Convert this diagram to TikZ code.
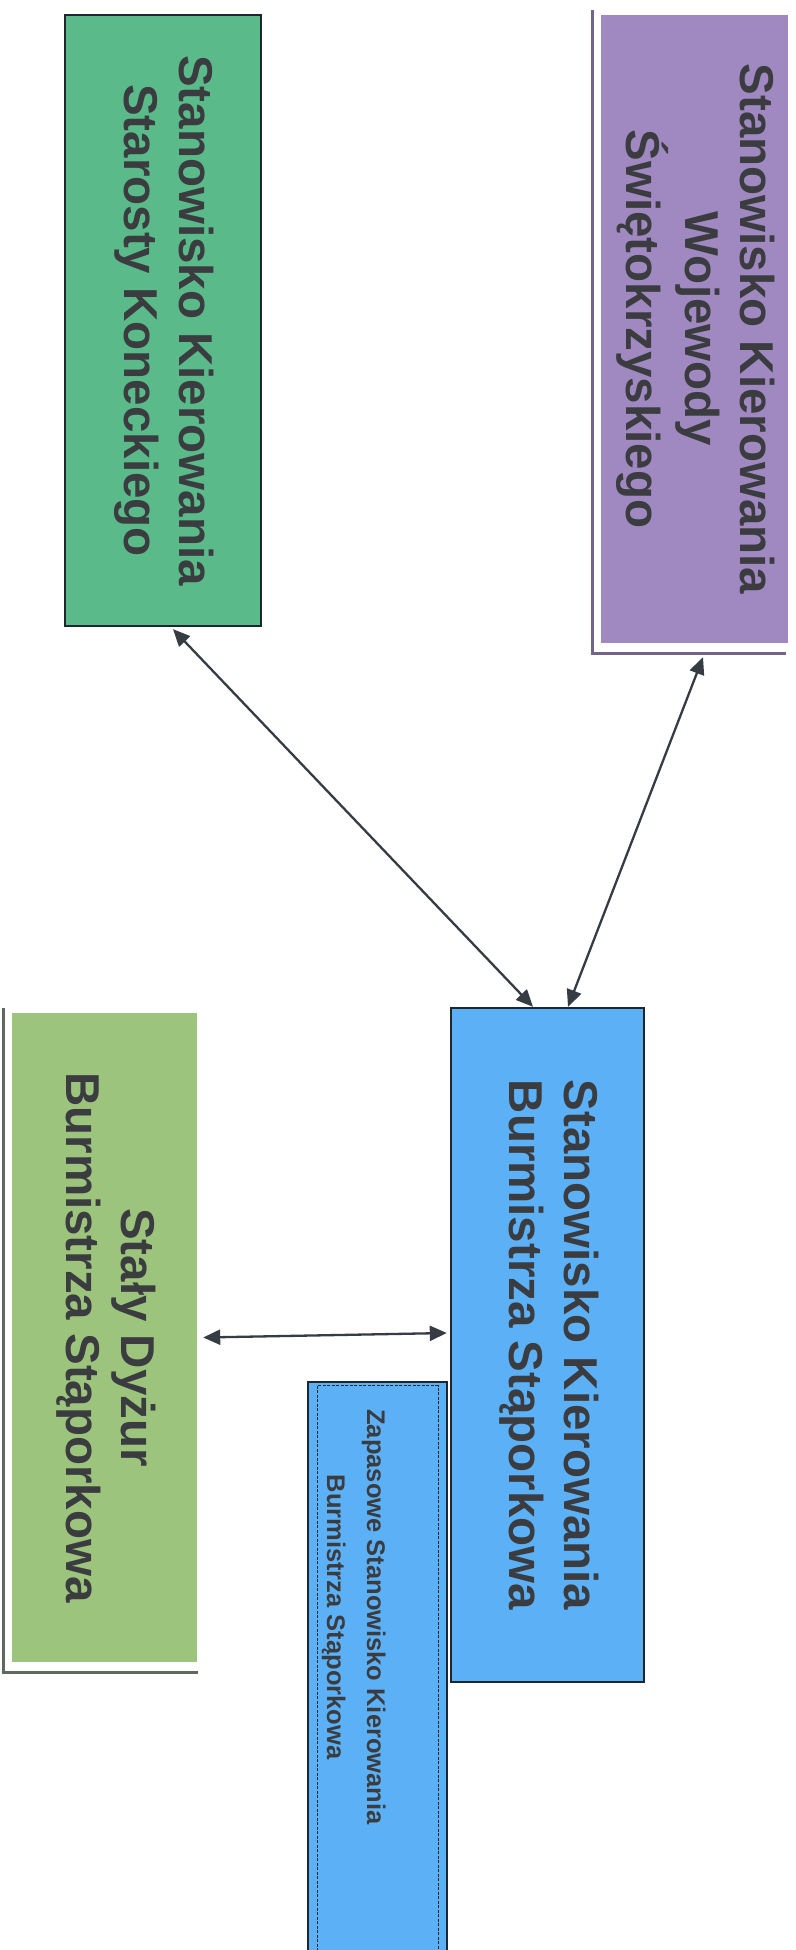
\documentclass[tikz,border=0pt]{standalone}
\usepackage{fontspec}
\setmainfont{Liberation Sans}
\usetikzlibrary{arrows.meta}

\definecolor{zielonyStarosta}{RGB}{90,186,138}
\definecolor{fioletWojewoda}{RGB}{160,136,192}
\definecolor{niebieskiBurmistrz}{RGB}{92,176,246}
\definecolor{zielonyDyzur}{RGB}{157,196,124}
\definecolor{tekst}{RGB}{58,60,64}
\definecolor{obrys}{RGB}{30,38,46}
\definecolor{ramkaFiolet}{RGB}{115,100,140}
\definecolor{ramkaZielen}{RGB}{95,105,95}

\newcommand{\pion}[1]{\rotatebox{-90}{\begin{tabular}{@{}c@{}}#1\end{tabular}}}

\begin{document}
\begin{tikzpicture}
        [x=1pt, y=-1pt,
        box/.style={rectangle, inner sep=0pt, font=\bfseries\fontsize{47.5}{55}\selectfont, text=tekst},
        boxDraw/.style={box, draw=obrys, line width=2.4pt},
        boxFrame/.style={line width=3pt},
        link/.style={line width=2.3pt, draw=obrys!90, >={Triangle[length=17pt, width=15pt]}, <->}]
        \useasboundingbox (0,0) rectangle (795,1950);
        \clip (0,0) rectangle (795,1950);
        \fill[white] (0,0) rectangle (795,1950);

        \node[boxDraw, fill=zielonyStarosta, minimum width=196pt, minimum height=611pt] (starosta) at (163,320.5) {\pion{Stanowisko Kierowania\\Starosty Koneckiego}};
        \node[box, fill=fioletWojewoda, minimum width=187pt, minimum height=628pt] (wojewoda) at (694.5,329) {\pion{Stanowisko Kierowania\\Wojewody\\Świętokrzyskiego}};
        \node[boxDraw, fill=niebieskiBurmistrz, minimum width=193pt, minimum height=674pt] (burmistrz) at (547.5,1345) {\pion{Stanowisko Kierowania\\Burmistrza Stąporkowa}};
        \node[box, fill=zielonyDyzur, minimum width=185pt, minimum height=649pt] (dyzur) at (104.5,1337.5) {\pion{Stały Dyżur\\Burmistrza Stąporkowa}};
        \node[boxDraw, fill=niebieskiBurmistrz, minimum width=139pt, minimum height=600pt] (zapas) at (377.5,1682) {};
        \draw[obrys, line width=0.9pt, dash pattern=on 3pt off 1.5pt] ([xshift=11pt, yshift=-5pt]zapas.north west) rectangle ([xshift=-10pt, yshift=5pt]zapas.south east);
        \node[box, font=\bfseries\fontsize{25.5}{40}\selectfont] (zapasOpis) at (355,1617) {\pion{Zapasowe Stanowisko Kierowania\\Burmistrza Stąporkowa}};

        % ramki przesuniete
        \draw[boxFrame, ramkaFiolet] ([xshift=-8pt, yshift=5pt]wojewoda.north west) |- ([xshift=-2pt, yshift=-10pt]wojewoda.south east);
        \draw[boxFrame, ramkaZielen] ([xshift=-8pt, yshift=5pt]dyzur.north west) |- ([xshift=1pt, yshift=-10pt]dyzur.south east);

        \draw[link] ([xshift=10pt, yshift=-2pt]starosta.south) -- ([xshift=-14.5pt]burmistrz.north);
        \draw[link] ([xshift=8.5pt, yshift=-14pt]wojewoda.south) -- ([xshift=20.5pt]burmistrz.north);
        \draw[link] ([xshift=6pt]dyzur.east) -- ([xshift=-3pt, yshift=12pt]burmistrz.west);

    \end{tikzpicture}
\end{document}
